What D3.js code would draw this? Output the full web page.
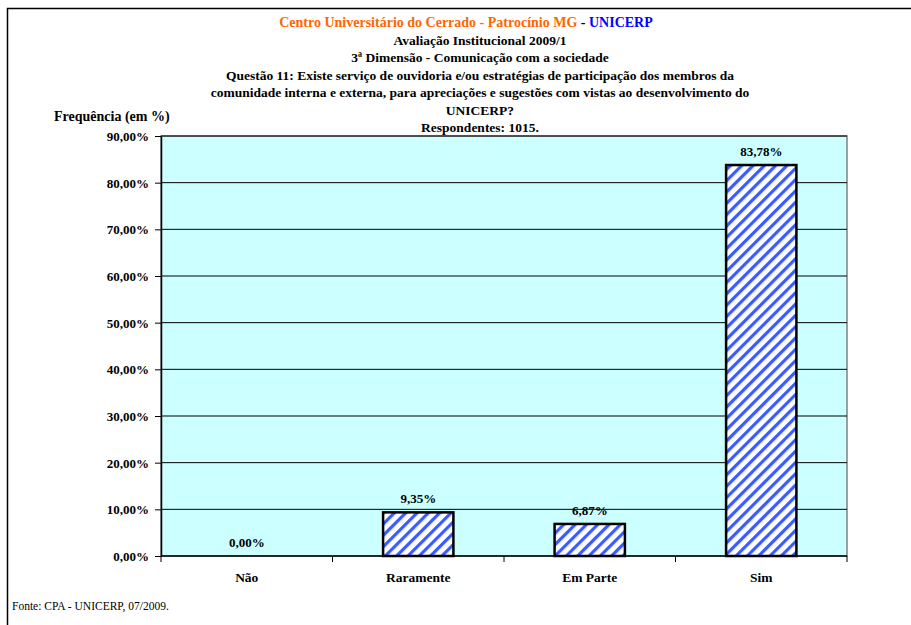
<!DOCTYPE html>
<html><head><meta charset="utf-8">
<script src="https://cdn.jsdelivr.net/npm/d3@7"></script>
<style>body{margin:0;background:#fff}svg{display:block}svg text{font-family:"Liberation Serif","Times New Roman",serif !important}</style>
</head><body>
<script>
const categories = ["Não", "Raramente", "Em Parte", "Sim"];
const values = [0.00, 9.35, 6.87, 83.78];
const yTicks = [0, 10, 20, 30, 40, 50, 60, 70, 80, 90];
const titleLines = [
  "Avaliação Institucional 2009/1",
  "3ª Dimensão - Comunicação com a sociedade",
  "Questão 11: Existe serviço de ouvidoria e/ou estratégias de participação dos membros da",
  "comunidade interna e externa, para apreciações e sugestões com vistas ao desenvolvimento do",
  "UNICERP?",
  "Respondentes: 1015."
];

const W = 911, H = 625;
const svg = d3.select("body").append("svg").attr("width", W).attr("height", H);

// outer frame
svg.append("path").attr("d", `M7.5,${H} V8.5 H${W}`).attr("fill","none").attr("stroke","#000").attr("stroke-width",1.5);

const m = {l:161, r:847, t:136, b:556};
const x = d3.scaleBand().domain(categories).range([m.l, m.r]).paddingInner(0.59).paddingOuter(0.295);
const xb = d3.scaleBand().domain(categories).range([m.l, m.r]);
const y = d3.scaleLinear().domain([0, 90]).range([m.b, m.t]);

const defs = svg.append("defs");
const pat = defs.append("pattern").attr("id","hatch").attr("patternUnits","userSpaceOnUse")
  .attr("width",8).attr("height",8).attr("patternTransform","rotate(45)");
pat.append("rect").attr("width",8).attr("height",8).attr("fill","#fff");
pat.append("rect").attr("x",0).attr("width",3.2).attr("height",8).attr("fill","#3b5bff");

// plot bg
svg.append("rect").attr("x",m.l).attr("y",m.t).attr("width",m.r-m.l).attr("height",m.b-m.t)
  .attr("fill","#ccffff").attr("stroke","#808080").attr("stroke-width",1.5);

// gridlines
svg.append("g").selectAll("line").data(yTicks.filter(d=>d>0)).join("line")
  .attr("x1",m.l).attr("x2",m.r).attr("y1",d=>y(d)).attr("y2",d=>y(d))
  .attr("stroke","#000").attr("stroke-width",1);

// bars
svg.append("g").selectAll("rect").data(values).join("rect")
  .attr("x",(d,i)=>x(categories[i])).attr("width",x.bandwidth())
  .attr("y",d=>y(d)).attr("height",d=>y(0)-y(d))
  .attr("fill","url(#hatch)").attr("stroke","#000").attr("stroke-width",2.5)
  .style("display",d=>d>0?null:"none");

// y axis
const yAxis = d3.axisLeft(y).tickValues(yTicks).tickSize(6).tickSizeOuter(0)
  .tickFormat(d=>d3.format(".2f")(d).replace(".",",")+"%");
const gy = svg.append("g").attr("transform",`translate(${m.l},0)`).call(yAxis);
gy.select(".domain").attr("stroke","#000").attr("stroke-width",1.5);
gy.selectAll(".tick line").attr("stroke","#000");
gy.selectAll(".tick text").attr("x",-12).attr("dy","0.35em")
  .style("font-size","13px").style("font-weight","bold").attr("fill","#000");

// x axis
svg.append("line").attr("x1",m.l).attr("x2",m.r).attr("y1",m.b).attr("y2",m.b).attr("stroke","#000").attr("stroke-width",1.5);
svg.append("g").selectAll("line").data(categories.concat([null])).join("line")
  .attr("x1",(d,i)=>m.l+i*xb.bandwidth()).attr("x2",(d,i)=>m.l+i*xb.bandwidth())
  .attr("y1",m.b).attr("y2",m.b+6).attr("stroke","#000");
svg.append("g").selectAll("text").data(categories).join("text")
  .attr("x",d=>xb(d)+xb.bandwidth()/2).attr("y",582).attr("text-anchor","middle")
  .style("font-size","13.5px").style("font-weight","bold").text(d=>d);

// value labels
svg.append("g").selectAll("text").data(values).join("text")
  .attr("x",(d,i)=>xb(categories[i])+xb.bandwidth()/2).attr("y",d=>y(d)-9)
  .attr("text-anchor","middle").style("font-size","13px").style("font-weight","bold")
  .text(d=>d3.format(".2f")(d).replace(".",",")+"%");

// titles
const t0 = svg.append("text").attr("x",466).attr("y",27).attr("text-anchor","middle")
  .style("font-size","14px").style("font-weight","bold");
t0.append("tspan").attr("fill","#ff6600").text("Centro Universitário do Cerrado - Patrocínio MG");
t0.append("tspan").attr("fill","#000").text(" - ");
t0.append("tspan").attr("fill","#0000ff").text("UNICERP");
svg.append("g").selectAll("text").data(titleLines).join("text")
  .attr("x",480).attr("y",(d,i)=>44.5+i*17.5).attr("text-anchor","middle")
  .style("font-size","13.5px").style("font-weight","bold").text(d=>d);

svg.append("text").attr("x",54).attr("y",121).style("font-size","14px").style("font-weight","bold")
  .text("Frequência (em %)");

svg.append("text").attr("x",12).attr("y",610).style("font-size","11.5px").text("Fonte: CPA - UNICERP, 07/2009.");
</script>
</body></html>
